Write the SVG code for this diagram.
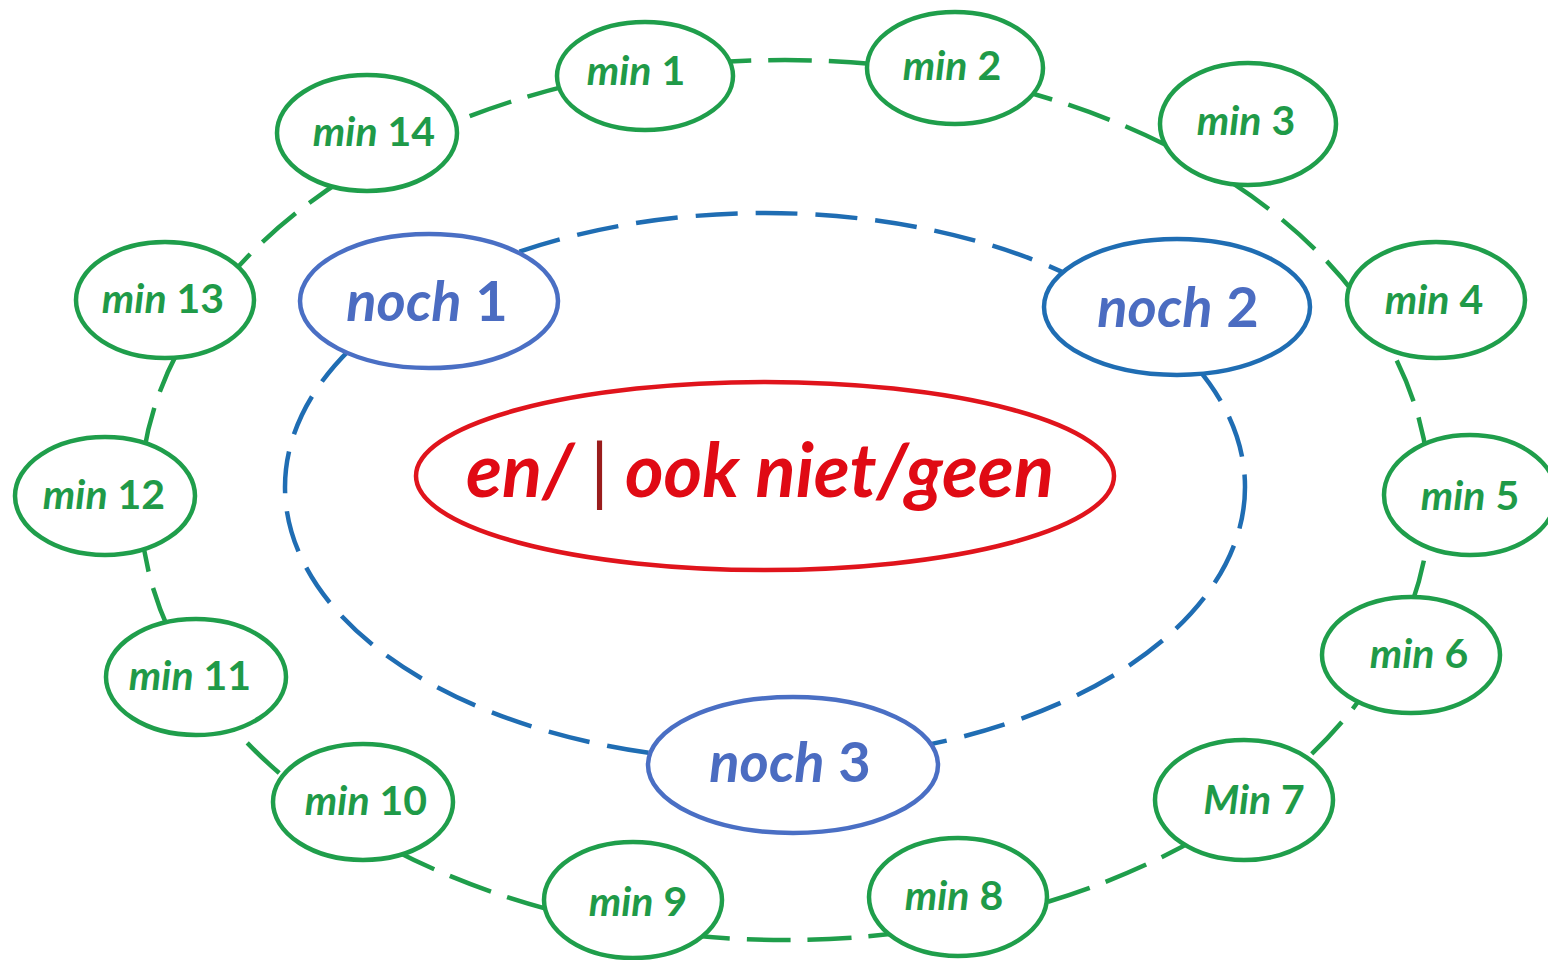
<svg xmlns="http://www.w3.org/2000/svg" width="1548" height="960" viewBox="0 0 1548 960">
  <style>
    .ring-green { fill: none; stroke: #1f9e4b; stroke-width: 4.5; stroke-dasharray: 44 17; }
    .ring-blue { fill: none; stroke: #1f6db3; stroke-width: 4.5; stroke-dasharray: 42 18; }
    .min ellipse { fill: #fff; stroke: #1f9e4b; stroke-width: 4.5; }
    .min text { font-family: Lato, "Open Sans", sans-serif; font-weight: 700; font-size: 41px; fill: #1f9a48; text-anchor: middle; }
    .noch ellipse { fill: #fff; stroke: #4a6fc4; stroke-width: 4.5; }
    .noch text { font-family: Lato, "Open Sans", sans-serif; font-weight: 700; font-size: 56px; fill: #4b6cc1; text-anchor: middle; }
    .it { font-style: italic; }
    .center ellipse { fill: #fff; stroke: #e0141c; stroke-width: 4.5; }
    .center text { font-family: Lato, "Open Sans", sans-serif; font-weight: 700; font-style: italic; font-size: 74px; fill: #e00a14; text-anchor: middle; }
  </style>

  <rect width="1548" height="960" fill="#fff"/>

  <!-- connectors: outer and inner dashed rings -->
  <g id="connectors">
    <ellipse class="ring-green" cx="785" cy="500" rx="645" ry="440"/>
    <ellipse class="ring-blue" cx="765" cy="487" rx="480" ry="274"/>
  </g>

  <!-- centre -->
  <g id="center" class="center">
    <ellipse cx="765" cy="476" rx="349" ry="94"/>
    <text x="760" y="497">en/ <tspan font-style="normal" font-weight="400" fill="#9a1c1c">|</tspan>  ook niet/geen</text>
  </g>

  <!-- inner ring nodes -->
  <g id="noch1" class="noch">
    <ellipse cx="429" cy="301" rx="129" ry="67"/>
    <text x="427" y="321"><tspan class="it">noch</tspan> 1</text>
  </g>
  <g id="noch2" class="noch">
    <ellipse cx="1177" cy="307" rx="133" ry="68" style="stroke:#1f6db3"/>
    <text x="1178" y="327"><tspan class="it">noch</tspan> 2</text>
  </g>
  <g id="noch3" class="noch">
    <ellipse cx="793" cy="765" rx="145" ry="68"/>
    <text x="790" y="782"><tspan class="it">noch</tspan> 3</text>
  </g>

  <!-- outer ring nodes -->
  <g id="min1" class="min">
    <ellipse cx="645" cy="76" rx="88" ry="54"/>
    <text x="636" y="85"><tspan class="it">min</tspan> 1</text>
  </g>
  <g id="min2" class="min">
    <ellipse cx="955" cy="68" rx="88" ry="56"/>
    <text x="952" y="80"><tspan class="it">min</tspan> 2</text>
  </g>
  <g id="min3" class="min">
    <ellipse cx="1248" cy="124" rx="88" ry="61"/>
    <text x="1246" y="135"><tspan class="it">min</tspan> 3</text>
  </g>
  <g id="min4" class="min">
    <ellipse cx="1436" cy="300" rx="89" ry="58"/>
    <text x="1434" y="314"><tspan class="it">min</tspan> 4</text>
  </g>
  <g id="min5" class="min">
    <ellipse cx="1470" cy="495" rx="86" ry="60"/>
    <text x="1470" y="510"><tspan class="it">min</tspan> 5</text>
  </g>
  <g id="min6" class="min">
    <ellipse cx="1411" cy="655" rx="89" ry="58"/>
    <text x="1419" y="668"><tspan class="it">min</tspan> 6</text>
  </g>
  <g id="min7" class="min">
    <ellipse cx="1244" cy="800" rx="89" ry="60"/>
    <text x="1254" y="814"><tspan class="it">Min</tspan> 7</text>
  </g>
  <g id="min8" class="min">
    <ellipse cx="958" cy="897" rx="89" ry="59"/>
    <text x="954" y="910"><tspan class="it">min</tspan> 8</text>
  </g>
  <g id="min9" class="min">
    <ellipse cx="633" cy="900" rx="89" ry="58"/>
    <text x="638" y="916"><tspan class="it">min</tspan> 9</text>
  </g>
  <g id="min10" class="min">
    <ellipse cx="363" cy="802" rx="90" ry="58"/>
    <text x="366" y="815"><tspan class="it">min</tspan> 10</text>
  </g>
  <g id="min11" class="min">
    <ellipse cx="196" cy="677" rx="90" ry="58"/>
    <text x="190" y="690"><tspan class="it">min</tspan> 11</text>
  </g>
  <g id="min12" class="min">
    <ellipse cx="105" cy="496" rx="90" ry="59"/>
    <text x="104" y="509"><tspan class="it">min</tspan> 12</text>
  </g>
  <g id="min13" class="min">
    <ellipse cx="165" cy="300" rx="89" ry="58"/>
    <text x="163" y="313"><tspan class="it">min</tspan> 13</text>
  </g>
  <g id="min14" class="min">
    <ellipse cx="367" cy="133" rx="90" ry="58"/>
    <text x="374" y="146"><tspan class="it">min</tspan> 14</text>
  </g>
</svg>
